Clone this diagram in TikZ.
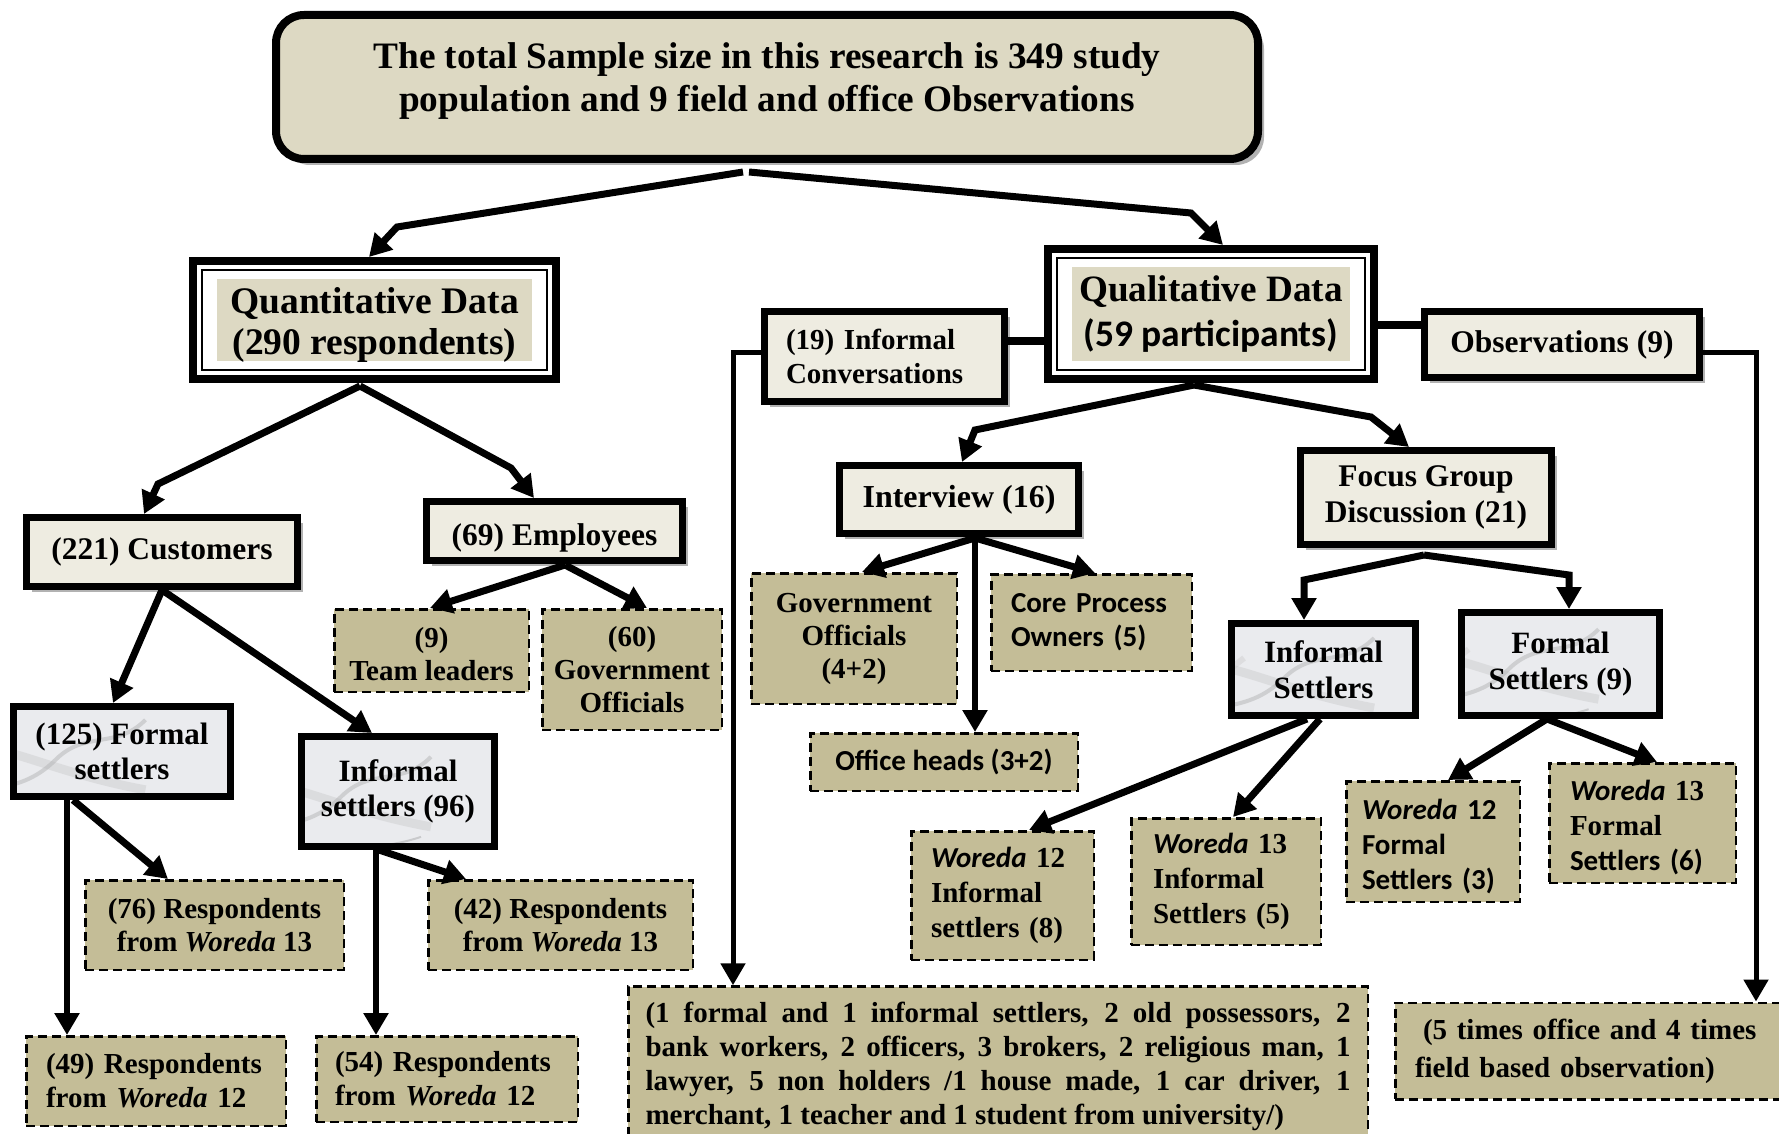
\documentclass[tikz,border=0pt]{standalone}
\usepackage{fontspec}
\setmainfont{Liberation Serif}
\newfontfamily\calfont{Carlito}
\usetikzlibrary{arrows.meta,calc,shadows}
\definecolor{tanlight}{HTML}{DDD9C3}
\definecolor{cream}{HTML}{EEECE1}
\definecolor{tandark}{HTML}{C4BD97}
\definecolor{marblebase}{HTML}{EAEBEE}
\newcommand\fsT{\fontsize{37.3}{43}\selectfont\bfseries}
\newcommand\fsQ{\fontsize{37.5}{41}\selectfont\bfseries}
\newcommand\fsB{\fontsize{31.5}{34}\selectfont\bfseries}
\newcommand\fsM{\fontsize{31}{35.5}\selectfont\bfseries}
\newcommand\fsC{\fontsize{29}{34}\selectfont\bfseries}
\newcommand\fsD{\fontsize{29}{33}\selectfont\bfseries}
\newcommand\fsW{\fontsize{29}{35}\selectfont\bfseries}
\begin{document}
\begin{tikzpicture}[x=1pt,y=-1pt,
  every node/.style={inner sep=0pt,align=center},
  conn/.style={line width=7pt,-{Triangle[length=22pt,width=24pt]}},
  thinconn/.style={line width=5pt,-{Triangle[length=22pt,width=24pt]}},
  joinbar/.style={line width=8pt},
  thickbox/.style={draw,line width=7pt},
  creambox/.style={thickbox,fill=cream,drop shadow={shadow xshift=5pt,shadow yshift=-5pt,fill=black!30,opacity=1}},
  marblebox/.style={thickbox,fill=marblebase,path picture={
    \begin{scope}[shift={(path picture bounding box.center)}]
      \draw[gray!70,line width=4pt,opacity=.4] (-110,30) .. controls (-60,0) and (-20,20) .. (20,-20) .. controls (50,-50) and (80,-30) .. (110,-60);
      \draw[gray!60,line width=9pt,opacity=.25] (-110,-30) .. controls (-50,-50) and (0,-10) .. (110,10);
      \draw[gray!80,line width=2pt,opacity=.4] (-40,60) .. controls (0,20) and (40,40) .. (100,20);
      \draw[gray!50,line width=6pt,opacity=.3] (-110,10) .. controls (-70,20) and (-60,-10) .. (-20,-40);
      \draw[white,line width=12pt,opacity=.6] (-110,60) .. controls (-50,40) and (0,60) .. (110,45);
    \end{scope}}},
  dashbox/.style={draw,line width=2.5pt,dash pattern=on 9pt off 5pt,fill=tandark},
  dblbox/.style={draw,line width=8pt,fill=white,path picture={
    \draw[line width=2pt] ($(path picture bounding box.north west)+(9,9)$) rectangle ($(path picture bounding box.south east)+(-9,-9)$);
    \fill[tanlight] ($(path picture bounding box.north west)+(24,18)$) rectangle ($(path picture bounding box.south east)+(-24,-18)$);}},
]
\useasboundingbox (0,0) rectangle (1779,1134);
\clip (0,0) rectangle (1779,1134);
\fill[white] (0,0) rectangle (1779,1134);

% title
\node[draw,line width=8pt,fill=tanlight,rounded corners=28pt,minimum width=982pt,minimum height=144pt,
  drop shadow={shadow xshift=6pt,shadow yshift=-6pt,fill=black!30,opacity=1}] (title) at (767,87) {};
\node[font=\fsT] (titletxt) at (767,81) {The total Sample size in this research is 349 study\\population and 9 field and office Observations};

% level 1
\node[dblbox,minimum width=363pt,minimum height=118pt] (quant) at (374.5,320) {};
\node[font=\fsQ] (quanttxt) at (374.5,325) {Quantitative Data\\(290 respondents)};
\node[dblbox,minimum width=326pt,minimum height=130pt,font=\fontsize{37.2}{41}\selectfont\bfseries] (qual) at (1211,314) {Qualitative Data\\[4pt]{\calfont\fontsize{37.5}{41}\selectfont (59 participants)}};
\node[creambox,minimum width=240pt,minimum height=90pt,text width=197pt,align=left,font=\fsC] (infconv) at (884.5,356.5) {(19) Informal\\Conversations};
\node[creambox,minimum width=275pt,minimum height=66pt,font=\fsB] (obs) at (1562,344.5) {Observations (9)};

% quantitative side
\node[creambox,minimum width=271pt,minimum height=69pt,font=\fsB] (customers) at (162,552) {(221) Customers};
\node[creambox,minimum width=256pt,minimum height=59pt,font=\fsB,text height=28pt,text depth=0pt] (employees) at (554.5,531) {(69) Employees};
\node[dashbox,minimum width=194.5pt,minimum height=82.5pt,font=\fsD] (team) at (431.5,650.5) {\rule{0pt}{28pt}(9)\\Team leaders};
\node[dashbox,minimum width=179.5pt,minimum height=120.5pt,font=\fsD] (gov60) at (632,669.5) {(60)\\Government\\Officials};
\node[marblebox,minimum width=217pt,minimum height=90pt,font=\fsM] (formal125) at (122,751.5) {(125) Formal\\settlers};
\node[marblebox,minimum width=193pt,minimum height=110pt,font=\fsM] (informal96) at (398,791.5) {Informal\\settlers (96)};
\node[dashbox,minimum width=258.5pt,minimum height=89.5pt,font=\fsD] (r76) at (214.5,925) {(76) Respondents\\from \textit{Woreda} 13};
\node[dashbox,minimum width=264.5pt,minimum height=89.5pt,font=\fsD] (r42) at (560.5,925) {(42) Respondents\\from \textit{Woreda} 13};
\node[dashbox,minimum width=259.5pt,minimum height=89.5pt,text width=220pt,align=left,font=\fsC] (r49) at (156,1081) {(49) Respondents\\from \textit{Woreda} 12};
\node[dashbox,minimum width=261.5pt,minimum height=85.5pt,text width=224pt,align=left,font=\fsC] (r54) at (447,1079) {(54) Respondents\\from \textit{Woreda} 12};

% qualitative side
\node[creambox,minimum width=239pt,minimum height=68pt,font=\fontsize{32}{36}\selectfont\bfseries] (interview) at (959,499.5) {Interview (16)};
\node[creambox,minimum width=251pt,minimum height=94pt,font=\fontsize{31.5}{36}\selectfont\bfseries] (fgd) at (1426,497.5) {Focus Group\\Discussion (21)};
\node[dashbox,minimum width=205.5pt,minimum height=130.5pt,font=\fsD] (gov42) at (854,638.5) {Government\\Officials\\(4+2)};
\node[dashbox,minimum width=200.5pt,minimum height=96.5pt,text width=161pt,align=left,font=\fsC\calfont] (core) at (1091.5,622.5) {Core Process\\Owners (5)};
\node[dashbox,minimum width=267.5pt,minimum height=57.5pt,font=\fontsize{29}{33}\selectfont\bfseries\calfont] (office) at (944,762) {Office heads (3+2)};
\node[marblebox,minimum width=184pt,minimum height=92pt,font=\fsM] (fgdinf) at (1323.5,669.5) {Informal\\Settlers};
\node[marblebox,minimum width=198pt,minimum height=103pt,font=\fsM] (fgdfor) at (1560.5,664) {Formal\\Settlers (9)};
\node[dashbox,minimum width=182.5pt,minimum height=128.5pt,text width=143pt,align=left,font=\fsW] (w12i) at (1002.5,895.5) {{\calfont\itshape Woreda} 12\\Informal\\settlers (8)};
\node[dashbox,minimum width=189.5pt,minimum height=126.5pt,text width=146pt,align=left,font=\fsW] (w13i) at (1226,881.5) {{\calfont\itshape Woreda} 13\\Informal\\Settlers (5)};
\node[dashbox,minimum width=173.5pt,minimum height=120.5pt,text width=142pt,align=left,font=\fsW\calfont] (w12f) at (1433,841.5) {\rule{0pt}{30pt}{\itshape Woreda}~12\\Formal\\Settlers (3)};
\node[dashbox,minimum width=186.5pt,minimum height=119.5pt,text width=145pt,align=left,font=\fsW] (w13f) at (1642.5,823) {\rule{0pt}{30pt}{\calfont\itshape Woreda} 13\\Formal\\{\calfont Settlers (6)}};

% bottom boxes
\node[dashbox,minimum width=739.5pt,minimum height=159pt,text width=705pt,align=justify,font=\fsC] (big) at (998,1066) {(1 formal and 1 informal settlers, 2 old possessors, 2\linebreak bank workers, 2 officers, 3 brokers, 2 religious man, 1\linebreak lawyer, 5 non holders /1 house made, 1 car driver, 1\linebreak merchant, 1 teacher and 1 student from university/)};
\node[dashbox,minimum width=403.5pt,minimum height=96.5pt,text width=364pt,align=left,font=\fontsize{29}{38}\selectfont\bfseries] (obs5) at (1597,1051) {\hspace*{8pt}(5 times office and 4 times\\field based observation)};

% connectors
\draw[conn] ($(title.south)+(-24,9)$) -- (397,227) -- ($(quant.north)+(-5.5,0)$);
\draw[conn] ($(title.south)+(-18,9)$) -- (1191,213) -- ($(qual.north)+(12,0)$);
\draw[conn] ($(quant.south)+(-14.5,3)$) -- (158,484) -- ($(customers.north)+(-18,0)$);
\draw[conn] ($(quant.south)+(-14.5,3)$) -- (511,468) -- ($(employees.north)+(-20.5,0)$);
\draw[conn] ($(employees.south)+(10.5,1)$) -- ($(team.north)+(-1.5,0)$);
\draw[conn] ($(employees.south)+(10.5,1)$) -- ($(gov60.north)+(15,0)$);
\draw[conn] (customers.south) -- ($(formal125.north)+(-9,0)$);
\draw[conn] (customers.south) -- ($(informal96.north)+(-26,0)$);
\draw[conn,line width=6pt] ($(formal125.south)+(-55,0)$) -- ($(r49.north)+(-89,0)$);
\draw[conn] ($(formal125.south)+(-49,0)$) -- ($(r76.north)+(-46.5,0)$);
\draw[conn,line width=6pt] ($(informal96.south)+(-22,0)$) -- ($(r54.north)+(-71,0)$);
\draw[conn] ($(informal96.south)+(-19,0)$) -- ($(r42.north)+(-94.5,0)$);

\draw[conn] ($(qual.south)+(-17,2)$) -- (975,430) -- ($(interview.north)+(3,0)$);
\draw[conn] ($(qual.south)+(-17,2)$) -- (1371,417) -- ($(fgd.north)+(-17,0)$);
\draw[conn] ($(interview.south)+(16,1)$) -- ($(gov42.north)+(8,0)$);
\draw[conn] ($(interview.south)+(16,1)$) -- ($(core.north)+(3.5,0)$);
\draw[conn,line width=6pt] ($(interview.south)+(16,0)$) -- ($(office.north)+(31,0)$);
\draw[conn] ($(fgd.south)+(-2,7)$) -- (1304,580) -- ($(fgdinf.north)+(-19.5,0)$);
\draw[conn] ($(fgd.south)+(-2,7)$) -- (1569,575) -- ($(fgdfor.north)+(8.5,0)$);
\draw[conn] ($(fgdinf.south)+(-16.5,0)$) -- ($(w12i.north)+(26.5,0)$);
\draw[conn] ($(fgdinf.south)+(-3.5,0)$) -- ($(w13i.north)+(7,0)$);
\draw[conn] ($(fgdfor.south)+(-13.5,0)$) -- ($(w12f.north)+(15,0)$);
\draw[conn] ($(fgdfor.south)+(-13.5,0)$) -- ($(w13f.north)+(14.5,0)$);

\draw[joinbar] ($(infconv.east)+(0,-15.5)$) -- ($(qual.west)+(0,27)$);
\draw[joinbar] ($(qual.east)+(0,11)$) -- ($(obs.west)+(0,-19.5)$);
\draw[thinconn] ($(infconv.west)+(0,-4.5)$) -| ($(big.north)+(-265,0)$);
\draw[thinconn] ($(obs.east)+(0,7.5)$) -| ($(obs5.north)+(159,0)$);
\end{tikzpicture}
\end{document}
